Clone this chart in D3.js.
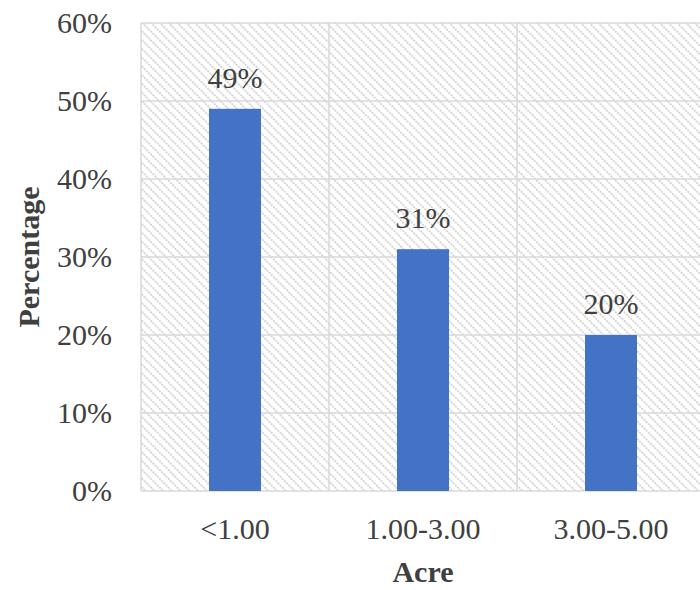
<!DOCTYPE html>
<html>
<head>
<meta charset="utf-8">
<script src="https://cdn.jsdelivr.net/npm/d3@7"></script>
<style>
  body { margin: 0; background: #fff; }
</style>
</head>
<body>
<div id="chart"></div>
<script>
// Dados
var categories = ['<1.00', '1.00-3.00', '3.00-5.00'];
var values = [0.49, 0.31, 0.20];
var yTicks = [0, 0.1, 0.2, 0.3, 0.4, 0.5, 0.6];

var w = 700, h = 590;
var margin = {top: 23, right: -5, bottom: 99, left: 141};
var width = w - margin.left - margin.right;
var height = h - margin.top - margin.bottom;
var fontSize = '30px';

var svg = d3.select('#chart')
  .append('svg')
  .attr('width', w)
  .attr('height', h);

// Padrao hachurado do fundo
var defs = svg.append('defs');
var pat = defs.append('pattern')
  .attr('id', 'hatch')
  .attr('patternUnits', 'userSpaceOnUse')
  .attr('width', 6.2)
  .attr('height', 6.2)
  .attr('patternTransform', 'rotate(-45)');
pat.append('line')
  .attr('x1', 1).attr('y1', 0)
  .attr('x2', 1).attr('y2', 6.2)
  .attr('stroke', '#d0d0d0')
  .attr('stroke-width', 1.8)
  .attr('stroke-dasharray', '2.1,1');

var g = svg.append('g')
  .attr('transform', 'translate(' + margin.left + ',' + margin.top + ')');

var x = d3.scaleBand()
  .domain(categories)
  .range([0, 564])
  .paddingInner(0)
  .paddingOuter(0);

var y = d3.scaleLinear()
  .domain([0, 0.6])
  .range([height, 0]);

// Fundo
g.append('rect')
  .attr('x', 0).attr('y', 0)
  .attr('width', width + 10).attr('height', height)
  .attr('fill', 'url(#hatch)');

// Grade horizontal
g.selectAll('.hgrid')
  .data(yTicks)
  .enter()
  .append('line')
  .attr('x1', 0)
  .attr('x2', width + 10)
  .attr('y1', function(d) { return y(d); })
  .attr('y2', function(d) { return y(d); })
  .attr('stroke', '#d9d9d9')
  .attr('stroke-width', 1.5);

// Grade vertical
g.selectAll('.vgrid')
  .data(categories)
  .enter()
  .append('line')
  .attr('x1', function(d) { return x(d); })
  .attr('x2', function(d) { return x(d); })
  .attr('y1', 0)
  .attr('y2', height)
  .attr('stroke', '#d9d9d9')
  .attr('stroke-width', 1.5);

// Barras
var barWidth = 52;
g.selectAll('.bar')
  .data(values)
  .enter()
  .append('rect')
  .attr('x', function(d, i) { return x(categories[i]) + x.bandwidth() / 2 - barWidth / 2; })
  .attr('y', function(d) { return y(d); })
  .attr('width', barWidth)
  .attr('height', function(d) { return height - y(d); })
  .attr('fill', '#4472c4');

// Rotulos
g.selectAll('.label')
  .data(values)
  .enter()
  .append('text')
  .attr('x', function(d, i) { return x(categories[i]) + x.bandwidth() / 2; })
  .attr('y', function(d) { return y(d) - 21; })
  .attr('text-anchor', 'middle')
  .attr('font-family', 'Liberation Serif')
  .attr('font-size', fontSize)
  .attr('fill', '#404040')
  .text(function(d) { return Math.round(d * 100) + '%'; });

// Eixo y
var yAxis = d3.axisLeft(y)
  .tickValues(yTicks)
  .tickSize(0)
  .tickPadding(29)
  .tickFormat(d3.format('.0%'));
var ya = g.append('g').call(yAxis);
ya.select('.domain').remove();
ya.selectAll('text')
  .attr('font-family', 'Liberation Serif')
  .attr('font-size', fontSize)
  .attr('fill', '#404040');

// Eixo x
var xAxis = d3.axisBottom(x)
  .tickSize(0)
  .tickPadding(27);
var xa = g.append('g')
  .attr('transform', 'translate(0,' + height + ')')
  .call(xAxis);
xa.select('.domain').remove();
xa.selectAll('text')
  .attr('font-family', 'Liberation Serif')
  .attr('font-size', fontSize)
  .attr('fill', '#404040');

// Titulos dos eixos
svg.append('text')
  .attr('x', margin.left + 564 / 2)
  .attr('y', 582)
  .attr('text-anchor', 'middle')
  .attr('font-family', 'Liberation Serif')
  .attr('font-weight', 'bold')
  .attr('font-size', fontSize)
  .attr('fill', '#404040')
  .text('Acre');

svg.append('text')
  .attr('transform', 'translate(39,' + (margin.top + height / 2) + ') rotate(-90)')
  .attr('text-anchor', 'middle')
  .attr('font-family', 'Liberation Serif')
  .attr('font-weight', 'bold')
  .attr('font-size', fontSize)
  .attr('fill', '#404040')
  .text('Percentage');
</script>
</body>
</html>
